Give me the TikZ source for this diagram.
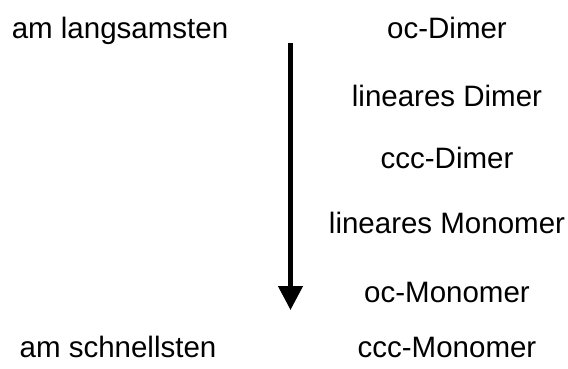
\documentclass[tikz,border=0pt]{standalone}
\usepackage{fontspec}
\setmainfont{Liberation Sans}
\usetikzlibrary{arrows.meta}
\begin{document}
\begin{tikzpicture}[x=1pt,y=-1pt,
  lbl/.style={anchor=base,inner sep=0pt,font=\fontsize{29.5}{34}\selectfont},
  speedarrow/.style={line width=4.5pt,-{Triangle[width=24pt,length=24pt]}}]
\useasboundingbox (0,0) rectangle (568,368);
\node[lbl] (slow) at (120,38) {am langsamsten};
\node[lbl] (fast) at (118,357) {am schnellsten};
\node[lbl] (r1) at (447,38) {oc-Dimer};
\node[lbl] (r2) at (447,106) {lineares Dimer};
\node[lbl] (r3) at (447,168) {ccc-Dimer};
\node[lbl] (r4) at (447,233) {lineares Monomer};
\node[lbl] (r5) at (447,302) {oc-Monomer};
\node[lbl] (r6) at (447,357) {ccc-Monomer};
\coordinate (atop) at (290.5,43);
\coordinate (abot) at (290.5,310);
\draw[speedarrow] (atop) -- (abot);
\end{tikzpicture}
\end{document}
